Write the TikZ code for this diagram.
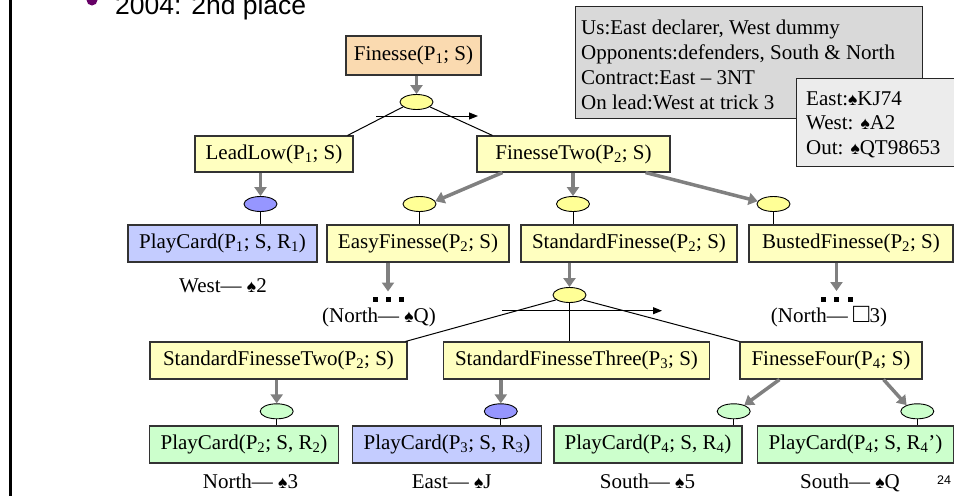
\documentclass[tikz,border=0pt]{standalone}
\usepackage{fontspec}
\setmainfont{Liberation Serif}
\newfontfamily\headfont{Liberation Sans}
\usetikzlibrary{arrows.meta,calc,shapes.geometric}

\definecolor{peach}{RGB}{250,218,176}
\definecolor{pyellow}{RGB}{255,255,192}
\definecolor{eyellow}{RGB}{255,255,150}
\definecolor{pblue}{RGB}{196,204,255}
\definecolor{eblue}{RGB}{150,150,255}
\definecolor{pgreen}{RGB}{204,255,204}
\definecolor{infogray}{RGB}{217,217,217}
\definecolor{cardgray}{RGB}{236,236,236}
\definecolor{arrowgray}{RGB}{128,128,128}
\definecolor{bulletpurple}{RGB}{102,0,102}

% suit symbols at the size used on the slide
\newcommand\spadesym{{\fontsize{17.5}{17.5}\selectfont ♠}}
\newcommand\blanksuit{{\fontsize{27}{27}\selectfont □}}

\begin{document}
\begin{tikzpicture}[x=1pt,y=-1pt,
  font=\fontsize{21}{24.5}\selectfont,
  task/.style={draw=black!80, line width=1.1pt, inner sep=0pt, minimum height=37pt, fill=pyellow},
  method/.style={ellipse, draw, line width=0.9pt, inner sep=0pt, minimum width=33pt, minimum height=15pt, fill=eyellow},
  garrow/.style={draw=arrowgray, line width=3.5pt, -{Triangle[length=9pt,width=12pt]}},
  thinlink/.style={draw, line width=1pt},
  orderarrow/.style={draw, line width=1pt, -{Triangle[length=9pt,width=7pt]}},
  cardlabel/.style={anchor=base, inner sep=0pt},
  plainline/.style={anchor=base west, inner sep=0pt},
  ellipsisdot/.style={fill=black, minimum size=5pt, inner sep=0pt},
]
\useasboundingbox (0,0) rectangle (954,496);

% slide frame and heading
\draw[line width=3pt] (10.5,0) -- (10.5,496);
\fill[bulletpurple] (92,0) circle (5.5pt);
\node[anchor=base west, inner sep=0pt, font=\headfont\fontsize{26.5}{30}\selectfont] (head) at (115,14) {2004: 2nd place};

% info boxes
\node[draw=black!85, line width=1.3pt, fill=infogray, minimum width=347pt, minimum height=112pt, anchor=north west, inner sep=0pt] (info) at (575,6) {};
\node[plainline] (info1) at (581,34) {Us:East declarer, West dummy};
\node[plainline] (info2) at (581,59) {Opponents:defenders, South \& North};
\node[plainline] (info3) at (581,84) {Contract:East -- 3NT};
\node[plainline] (info4) at (581,109) {On lead:West at trick 3};

\node[draw=black!85, line width=1.3pt, fill=cardgray, minimum width=158pt, minimum height=88pt, anchor=north west, inner sep=0pt] (cards) at (796,78) {};
\node[plainline] (cards1) at (806,105) {East:\spadesym KJ74};
\node[plainline] (cards2) at (806,129.5) {West: \spadesym A2};
\node[plainline] (cards3) at (806,154) {Out: \spadesym QT98653};

% task boxes
\node[task, fill=peach, minimum width=135pt, minimum height=39pt] (fin) at (413.5,55.5) {Finesse(P\textsubscript{1}; S)};
\node[task, minimum width=158pt, minimum height=36pt] (lead) at (274,154) {LeadLow(P\textsubscript{1}; S)};
\node[task, minimum width=193pt, minimum height=36pt] (ftwo) at (573.5,154) {FinesseTwo(P\textsubscript{2}; S)};
\node[task, fill=pblue, minimum width=189pt] (pc1) at (222.5,243.5) {PlayCard(P\textsubscript{1}; S, R\textsubscript{1})};
\node[task, minimum width=182pt] (easy) at (418,243.5) {EasyFinesse(P\textsubscript{2}; S)};
\node[task, minimum width=216pt] (std) at (629,243.5) {StandardFinesse(P\textsubscript{2}; S)};
\node[task, minimum width=204pt] (bust) at (851,243.5) {BustedFinesse(P\textsubscript{2}; S)};
\node[task, minimum width=257pt] (sf2) at (278.5,360.5) {StandardFinesseTwo(P\textsubscript{2}; S)};
\node[task, minimum width=266pt] (sf3) at (576.5,360.5) {StandardFinesseThree(P\textsubscript{3}; S)};
\node[task, minimum width=182pt] (ff4) at (831,360.5) {FinesseFour(P\textsubscript{4}; S)};
\node[task, fill=pgreen, minimum width=189pt] (pc2) at (244,444.5) {PlayCard(P\textsubscript{2}; S, R\textsubscript{2})};
\node[task, fill=pblue, minimum width=189pt] (pc3) at (447,444.5) {PlayCard(P\textsubscript{3}; S, R\textsubscript{3})};
\node[task, fill=pgreen, minimum width=188pt] (pc4) at (648,444.5) {PlayCard(P\textsubscript{4}; S, R\textsubscript{4})};
\node[task, fill=pgreen, minimum width=196pt] (pc5) at (855.5,444.5) {PlayCard(P\textsubscript{4}; S, R\textsubscript{4}’)};

% method ellipses
\node[method] (e0) at (416.5,102) {};
\node[method, fill=eblue] (e1) at (260.5,204) {};
\node[method] (e2) at (419.5,204) {};
\node[method] (e3) at (573,204) {};
\node[method] (e4) at (773.5,204) {};
\node[method] (e5) at (569.5,295) {};
\node[method, fill=pgreen] (e6) at (276.7,411.3) {};
\node[method, fill=eblue] (e7) at (500.8,411.3) {};
\node[method, fill=pgreen] (e8) at (733.7,411.3) {};
\node[method, fill=pgreen] (e9) at (917.3,411.3) {};

% elided subtrees
\node[ellipsisdot] (da1) at (375,299.5) {};
\node[ellipsisdot] (da2) at (388,299.5) {};
\node[ellipsisdot] (da3) at (401,299.5) {};
\node[ellipsisdot] (db1) at (823,299) {};
\node[ellipsisdot] (db2) at (836.5,299) {};
\node[ellipsisdot] (db3) at (850,299) {};

% card labels
\node[cardlabel] (lw) at (223,292) {West— \spadesym 2};
\node[cardlabel] (ln1) at (379,322) {(North— \spadesym Q)};
\node[cardlabel] (ln2) at (829,322) {(North— \blanksuit 3)};
\node[cardlabel] (ln3) at (250.5,488) {North— \spadesym 3};
\node[cardlabel] (le) at (451.7,488) {East— \spadesym J};
\node[cardlabel] (ls1) at (647.5,488) {South— \spadesym 5};
\node[cardlabel] (ls2) at (850,488) {South— \spadesym Q};
\node[anchor=base west, inner sep=0pt, font=\headfont\fontsize{12.5}{14}\selectfont] (pagenum) at (937,484) {24};

% decomposition arrows
\draw[garrow] (e0.north |- fin.south) -- (e0.north);
\draw[garrow] (e1.north |- lead.south) -- (e1.north);
\draw[garrow] ($(ftwo.south west)+(26,0)$) -- (e2.10);
\draw[garrow] (e3.north |- ftwo.south) -- (e3.north);
\draw[garrow] ($(ftwo.south east)+(-25,0)$) -- (e4.170);
\draw[garrow] (da2 |- easy.south) -- ($(da2)+(0,-8)$);
\draw[garrow] (e5.north |- std.south) -- (e5.north);
\draw[garrow] (db2 |- bust.south) -- ($(db2)+(0,-8)$);
\draw[garrow] (e6.north |- sf2.south) -- (e6.north);
\draw[garrow] (e7.north |- sf3.south) -- (e7.north);
\draw[garrow] ($(ff4.south west)+(40,0)$) -- (e8.30);
\draw[garrow] ($(ff4.south east)+(-39,0)$) -- (e9.150);

% method to subtask links
\draw[thinlink] (e0.200) -- ($(lead.north east)+(-6,0)$);
\draw[thinlink] (e0.340) -- ($(ftwo.north west)+(16,0)$);
\draw[thinlink] (e1.south) -- (e1.south |- pc1.north);
\draw[thinlink] (e2.south) -- (e2.south |- easy.north);
\draw[thinlink] (e3.south) -- (e3.south |- std.north);
\draw[thinlink] (e4.south) -- (e4.south |- bust.north);
\draw[thinlink] (e5.200) -- ($(sf2.north east)+(-2,0)$);
\draw[thinlink] (e5.south) -- (e5.south |- sf3.north);
\draw[thinlink] (e5.340) -- (ff4.north west);
\draw[thinlink] (e6.south) -- (e6.south |- pc2.north);
\draw[thinlink] (e7.south) -- (e7.south |- pc3.north);
\draw[thinlink] (e8.south) -- (e8.south |- pc4.north);
\draw[thinlink] (e9.south) -- (e9.south |- pc5.north);

% ordering arrows
\coordinate (o1a) at (376,116);
\coordinate (o1b) at (478,116);
\coordinate (o2a) at (502,310.7);
\coordinate (o2b) at (662,310.7);
\draw[orderarrow] (o1a) -- (o1b);
\draw[orderarrow] (o2a) -- (o2b);
\end{tikzpicture}
\end{document}
